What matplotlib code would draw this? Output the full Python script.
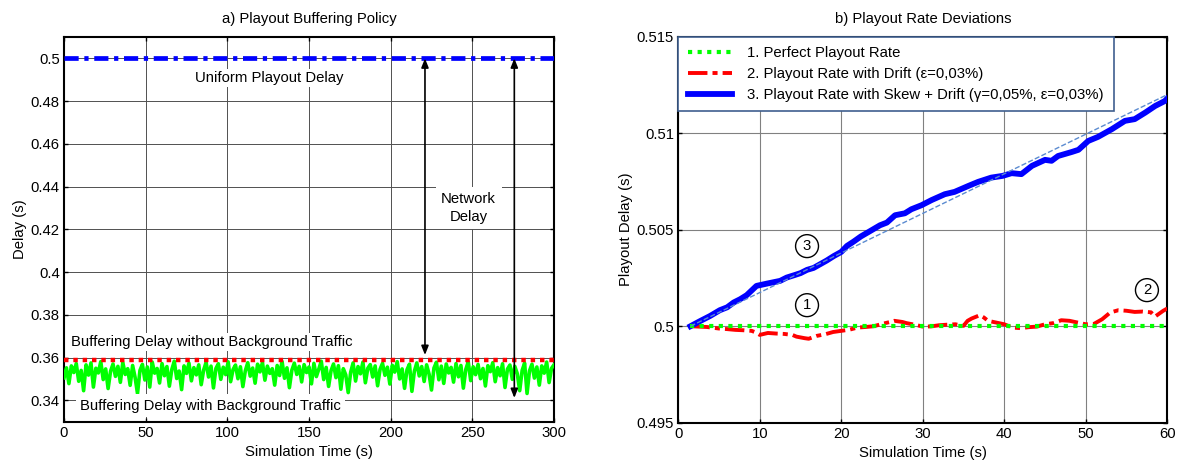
import numpy as np
import matplotlib
matplotlib.use('Agg')
import matplotlib.pyplot as plt

plt.rcParams['font.family'] = ['Liberation Sans', 'DejaVu Sans']
plt.rcParams['font.size'] = 10.7

# a) Playout buffering policy
sim_time = np.arange(0, 300.1, 1.5)
uniform_time = [0, 300]
uniform_delay = [0.5, 0.5]
no_bg_time = [0, 300]
no_bg_delay = [0.359, 0.359]
bg_delay = [
    0.3505, 0.3552, 0.3478, 0.3561, 0.3530, 0.3572, 0.3489, 0.3540, 0.3445, 0.3566,
    0.3518, 0.3575, 0.3462, 0.3550, 0.3528, 0.3581, 0.3497, 0.3547, 0.3455, 0.3536,
    0.3570, 0.3512, 0.3559, 0.3484, 0.3577, 0.3521, 0.3548, 0.3470, 0.3563, 0.3508,
    0.3432, 0.3540, 0.3568, 0.3495, 0.3556, 0.3462, 0.3579, 0.3527, 0.3549, 0.3481,
    0.3572, 0.3515, 0.3558, 0.3466, 0.3544, 0.3583, 0.3502, 0.3537, 0.3450, 0.3561,
    0.3526, 0.3574, 0.3491, 0.3553, 0.3519, 0.3566, 0.3473, 0.3542, 0.3578, 0.3509,
    0.3560, 0.3458, 0.3549, 0.3571, 0.3498, 0.3555, 0.3520, 0.3580, 0.3487, 0.3544,
    0.3565, 0.3501, 0.3557, 0.3464, 0.3538, 0.3576, 0.3513, 0.3551, 0.3480, 0.3569,
    0.3533, 0.3577, 0.3494, 0.3560, 0.3526, 0.3548, 0.3471, 0.3563, 0.3516, 0.3582,
    0.3503, 0.3552, 0.3459, 0.3541, 0.3574, 0.3521, 0.3559, 0.3486, 0.3567, 0.3530,
    0.3556, 0.3477, 0.3573, 0.3511, 0.3546, 0.3583, 0.3497, 0.3554, 0.3465, 0.3539,
    0.3570, 0.3506, 0.3562, 0.3452, 0.3548, 0.3519, 0.3436, 0.3531, 0.3575, 0.3490,
    0.3558, 0.3524, 0.3579, 0.3482, 0.3550, 0.3567, 0.3509, 0.3561, 0.3468, 0.3545,
    0.3573, 0.3517, 0.3555, 0.3476, 0.3564, 0.3532, 0.3581, 0.3500, 0.3547, 0.3456,
    0.3543, 0.3569, 0.3442, 0.3536, 0.3575, 0.3514, 0.3558, 0.3488, 0.3566, 0.3523,
    0.3448, 0.3551, 0.3578, 0.3496, 0.3560, 0.3479, 0.3570, 0.3528, 0.3554, 0.3485,
    0.3572, 0.3510, 0.3563, 0.3457, 0.3545, 0.3580, 0.3492, 0.3557, 0.3520, 0.3568,
    0.3501, 0.3549, 0.3467, 0.3562, 0.3534, 0.3576, 0.3487, 0.3553, 0.3515, 0.3571,
    0.3460, 0.3546, 0.3565, 0.3498, 0.3559, 0.3525, 0.3445, 0.3540, 0.3574, 0.3432,
    0.3538, 0.3569, 0.3504, 0.3556, 0.3471, 0.3561, 0.3527, 0.3579, 0.3483, 0.3550,
    0.3566,
]

# b) Playout rate deviations
perfect_time = [1.5, 60]
perfect_delay = [0.5, 0.5]

drift_time = [1.5, 2.5, 3.5, 5, 6, 7, 8, 9, 9.5, 10, 11, 12, 13, 14, 14.5, 15.5, 16,
              17, 18, 19, 20, 21, 22, 23, 24, 25, 26, 26.5, 27.5, 28, 29, 30, 31, 32,
              33, 34, 35, 35.5, 36, 37, 37.5, 38, 39, 40, 41, 42, 43, 44, 45, 46, 47,
              48, 49, 50, 51, 52, 53, 54, 55, 56, 57, 58, 58.5, 59.5, 60]
drift_delay = [0.5, 0.49998, 0.49996, 0.49988, 0.49985, 0.49981, 0.49979, 0.49976,
               0.49968, 0.49955, 0.49965, 0.49962, 0.4996, 0.49955, 0.49946, 0.49938,
               0.49935, 0.4995, 0.49958, 0.4997, 0.49976, 0.49982, 0.49993, 0.49996,
               0.5, 0.50012, 0.50022, 0.50028, 0.50022, 0.50016, 0.50008, 0.49998,
               0.49999, 0.50005, 0.50008, 0.5001, 0.50002, 0.50028, 0.5004, 0.50057,
               0.50045, 0.50028, 0.50019, 0.5001, 0.49993, 0.4999, 0.49995, 0.49998,
               0.5001, 0.50016, 0.50031, 0.50028, 0.50019, 0.5001, 0.50012, 0.50036,
               0.50071, 0.50083, 0.5008, 0.50074, 0.50076, 0.50072, 0.5005, 0.5008,
               0.50092]

skew_time = [1.5, 2.7, 3.9, 5.1, 6.0, 6.8, 7.6, 8.4, 9.0, 9.6, 10.9, 12.5, 13.3, 14.2,
             15.0, 15.8, 16.6, 17.4, 18.2, 19.1, 20.0, 20.7, 21.5, 22.4, 23.5, 24.75,
             25.6, 26.6, 27.8, 28.6, 29.85, 31.1, 32.7, 33.9, 35.6, 36.8, 38.4, 39.8,
             40.9, 42.1, 43.4, 45.0, 45.8, 46.6, 48.3, 49.1, 50.3, 51.5, 53.2, 54.8,
             56.0, 57.3, 58.5, 59.7, 60]
skew_delay = [0.5, 0.50027, 0.50053, 0.50083, 0.50098, 0.50123, 0.5014, 0.50161,
              0.50185, 0.50209, 0.50221, 0.50235, 0.50252, 0.50264, 0.50275, 0.50292,
              0.50302, 0.50321, 0.5034, 0.50364, 0.50385, 0.50416, 0.50438, 0.50465,
              0.50492, 0.50523, 0.50537, 0.50575, 0.50585, 0.50606, 0.50627, 0.50654,
              0.50684, 0.50696, 0.50727, 0.50748, 0.5077, 0.50779, 0.50793, 0.50788,
              0.50831, 0.50862, 0.50857, 0.50882, 0.50903, 0.50914, 0.5096, 0.50981,
              0.51021, 0.51064, 0.51073, 0.51107, 0.51141, 0.51167, 0.5118]

trend_time = [1.5, 60]
trend_delay = [0.5, 0.512]

fig = plt.figure(figsize=(11.81, 4.69), dpi=100)
ax1 = fig.add_axes([0.0542, 0.1009, 0.4149, 0.8202])
ax2 = fig.add_axes([0.5743, 0.0987, 0.4141, 0.8230])

white_box = dict(facecolor='white', edgecolor='none', pad=1.5)

# left panel
ax1.plot(uniform_time, uniform_delay, color='#0000ff', linewidth=3.4,
         linestyle=(0, (3, 1.2, 0.9, 1.2)), zorder=4)
ax1.plot(sim_time, bg_delay, color='#00ff00', linewidth=2.6, zorder=3)
ax1.plot(no_bg_time, no_bg_delay, color='#ff0000', linewidth=3.2,
         linestyle=(0, (1, 1.1)), zorder=4)

ax1.text(125.5, 0.4908, 'Uniform Playout Delay', ha='center', va='center', bbox=white_box, zorder=5)
ax1.text(247.7, 0.430, 'Network\nDelay', ha='center', va='center', linespacing=1.3,
         bbox=dict(facecolor='white', edgecolor='none', pad=4), zorder=5)
ax1.text(4.3, 0.3671, 'Buffering Delay without Background Traffic', ha='left', va='center',
         bbox=white_box, zorder=5)
ax1.text(9.8, 0.3375, 'Buffering Delay with Background Traffic', ha='left', va='center',
         bbox=dict(facecolor='white', edgecolor='none', pad=3), zorder=5)

arrow = dict(arrowstyle='<|-|>,head_length=0.5,head_width=0.2', color='black',
             linewidth=1.2, shrinkA=0, shrinkB=0)
ax1.annotate('', xy=(221, 0.3612), xytext=(221, 0.5), arrowprops=arrow, zorder=6)
ax1.annotate('', xy=(275.7, 0.3411), xytext=(275.7, 0.5), arrowprops=arrow, zorder=6)

ax1.set_xlim(0, 300)
ax1.set_ylim(0.33, 0.51)
ax1.set_xticks(np.arange(0, 301, 50))
ax1.set_yticks([0.34, 0.36, 0.38, 0.4, 0.42, 0.44, 0.46, 0.48, 0.5])
ax1.set_yticklabels(['0.34', '0.36', '0.38', '0.4', '0.42', '0.44', '0.46', '0.48', '0.5'])
ax1.grid(True, color='#505050', linewidth=0.7)
ax1.set_title('a) Playout Buffering Policy', fontsize=10.7, pad=10)
ax1.set_xlabel('Simulation Time (s)', labelpad=4)
ax1.set_ylabel('Delay (s)', labelpad=3)

# right panel
ax2.plot(perfect_time, perfect_delay, color='#00ff00', linewidth=3,
         linestyle=(0, (1, 1.3)), label='1. Perfect Playout Rate', zorder=4)
ax2.plot(drift_time, drift_delay, color='#ff0000', linewidth=2.8,
         linestyle=(0, (5, 1.3, 1.3, 1.3)), label='2. Playout Rate with Drift (\u03b5=0,03%)', zorder=3)
ax2.plot(skew_time, skew_delay, color='#0000ff', linewidth=4.2,
         label='3. Playout Rate with Skew + Drift (\u03b3=0,05%, \u03b5=0,03%)', zorder=3)
ax2.plot(trend_time, trend_delay, color='#5b8bd0', linewidth=1, linestyle='--', zorder=5)

circle = dict(boxstyle='circle,pad=0.3', facecolor='white', edgecolor='black', linewidth=1)
ax2.text(15.8, 0.50415, '3', ha='center', va='center', bbox=circle, zorder=6)
ax2.text(15.8, 0.50109, '1', ha='center', va='center', bbox=circle, zorder=6)
ax2.text(57.5, 0.50187, '2', ha='center', va='center', bbox=circle, zorder=6)

leg = ax2.legend(loc='upper left', bbox_to_anchor=(0, 1), borderaxespad=0, fancybox=False,
                 framealpha=1, edgecolor='#3f5f8f', handlelength=3.0, handletextpad=1.0,
                 labelspacing=0.45, borderpad=0.65)
leg.get_frame().set_linewidth(1.2)

ax2.set_xlim(0, 60)
ax2.set_ylim(0.495, 0.515)
ax2.set_xticks(np.arange(0, 61, 10))
ax2.set_yticks([0.495, 0.5, 0.505, 0.51, 0.515])
ax2.set_yticklabels(['0.495', '0.5', '0.505', '0.51', '0.515'])
ax2.grid(True, color='#808080', linewidth=0.8)
ax2.set_title('b) Playout Rate Deviations', fontsize=10.7, pad=10)
ax2.set_xlabel('Simulation Time (s)', labelpad=4)
ax2.set_ylabel('Playout Delay (s)', labelpad=3)

for ax in (ax1, ax2):
    ax.set_axisbelow(True)
    ax.tick_params(direction='in', top=True, right=True, length=3, width=1, pad=3)
    for side in ax.spines.values():
        side.set_linewidth(1.5)

fig.savefig('out.png', dpi=100)
